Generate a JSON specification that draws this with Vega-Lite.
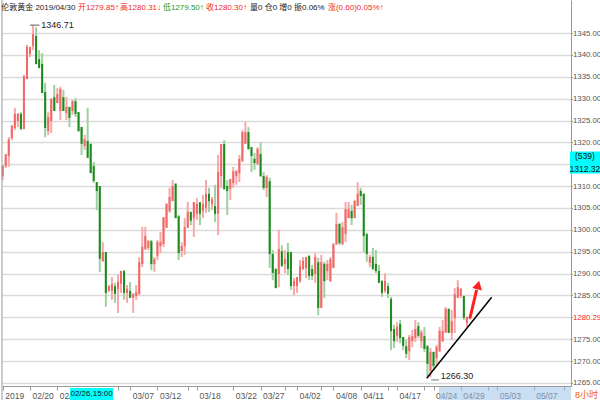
{
  "$schema": "https://vega.github.io/schema/vega-lite/v6.json",
  "width": 569,
  "height": 386,
  "autosize": {"type": "none"},
  "padding": {"left": 2, "top": 0, "right": 29, "bottom": 14},
  "background": "white",
  "config": {
    "view": {"stroke": null},
    "font": "Liberation Sans, Noto Sans CJK SC, sans-serif",
    "text": {"font": "Liberation Sans, Noto Sans CJK SC, sans-serif"},
    "axis": {"labelOverlap": false, "labelFlush": false, "title": null, "labelColor": "#555", "tickColor": "#999", "domainColor": "#999"}
  },
  "resolve": {"axis": {"x": "independent", "y": "independent"}},
  "datasets": {
    "candles": [
      {"i":0,"o":1312.5,"h":1314.8,"l":1311.4,"c":1314.4},
      {"i":1,"o":1314.8,"h":1317.1,"l":1314.1,"c":1317.1},
      {"i":2,"o":1317.1,"h":1321.2,"l":1314.4,"c":1320.5},
      {"i":3,"o":1321.2,"h":1324.0,"l":1320.5,"c":1323.5},
      {"i":4,"o":1323.5,"h":1327.9,"l":1322.8,"c":1326.3},
      {"i":5,"o":1325.1,"h":1326.7,"l":1323.5,"c":1326.3},
      {"i":6,"o":1326.3,"h":1326.9,"l":1322.8,"c":1323.3},
      {"i":7,"o":1323.3,"h":1335.4,"l":1323.0,"c":1334.9},
      {"i":8,"o":1334.7,"h":1342.3,"l":1334.5,"c":1341.6},
      {"i":9,"o":1340.4,"h":1341.8,"l":1339.5,"c":1341.6},
      {"i":10,"o":1342.3,"h":1346.71,"l":1341.1,"c":1344.5},
      {"i":11,"o":1344.1,"h":1346.3,"l":1337.9,"c":1338.1},
      {"i":12,"o":1338.8,"h":1341.1,"l":1337.0,"c":1337.2},
      {"i":13,"o":1337.7,"h":1340.4,"l":1331.3,"c":1331.5},
      {"i":14,"o":1331.3,"h":1333.6,"l":1321.2,"c":1323.5},
      {"i":15,"o":1322.8,"h":1326.9,"l":1321.7,"c":1325.6},
      {"i":16,"o":1325.1,"h":1330.1,"l":1322.1,"c":1329.7},
      {"i":17,"o":1330.1,"h":1333.1,"l":1327.2,"c":1327.4},
      {"i":18,"o":1329.2,"h":1332.4,"l":1329.0,"c":1330.8},
      {"i":19,"o":1327.4,"h":1332.7,"l":1325.1,"c":1332.0},
      {"i":20,"o":1330.1,"h":1332.0,"l":1327.2,"c":1327.4},
      {"i":21,"o":1326.9,"h":1330.4,"l":1325.1,"c":1327.9},
      {"i":22,"o":1327.9,"h":1328.1,"l":1323.5,"c":1325.8},
      {"i":23,"o":1327.4,"h":1329.7,"l":1326.3,"c":1329.2},
      {"i":24,"o":1329.2,"h":1330.1,"l":1325.8,"c":1326.7},
      {"i":25,"o":1326.7,"h":1326.9,"l":1322.4,"c":1322.8},
      {"i":26,"o":1323.3,"h":1323.5,"l":1317.1,"c":1319.9},
      {"i":27,"o":1319.4,"h":1321.7,"l":1318.3,"c":1320.5},
      {"i":28,"o":1320.1,"h":1327.9,"l":1316.4,"c":1316.7},
      {"i":29,"o":1319.4,"h":1319.9,"l":1313.0,"c":1313.2},
      {"i":30,"o":1314.4,"h":1315.5,"l":1310.7,"c":1311.4},
      {"i":31,"o":1310.7,"h":1310.9,"l":1304.5,"c":1309.1},
      {"i":32,"o":1309.8,"h":1310.0,"l":1290.4,"c":1293.6},
      {"i":33,"o":1293.1,"h":1297.2,"l":1292.7,"c":1294.7},
      {"i":34,"o":1294.7,"h":1294.9,"l":1282.4,"c":1285.8},
      {"i":35,"o":1286.3,"h":1287.4,"l":1285.8,"c":1286.9},
      {"i":36,"o":1286.3,"h":1289.2,"l":1284.0,"c":1287.4},
      {"i":37,"o":1286.9,"h":1287.9,"l":1283.3,"c":1285.6},
      {"i":38,"o":1286.7,"h":1289.7,"l":1281.0,"c":1287.9},
      {"i":39,"o":1287.9,"h":1290.4,"l":1285.6,"c":1290.4},
      {"i":40,"o":1290.4,"h":1290.8,"l":1284.0,"c":1285.8},
      {"i":41,"o":1285.8,"h":1287.4,"l":1283.3,"c":1286.3},
      {"i":42,"o":1285.8,"h":1288.1,"l":1284.4,"c":1284.7},
      {"i":43,"o":1284.7,"h":1285.6,"l":1281.0,"c":1285.1},
      {"i":44,"o":1285.1,"h":1287.4,"l":1284.0,"c":1285.6},
      {"i":45,"o":1285.6,"h":1293.8,"l":1285.1,"c":1292.4},
      {"i":46,"o":1292.4,"h":1300.7,"l":1291.5,"c":1295.9},
      {"i":47,"o":1295.9,"h":1300.7,"l":1295.4,"c":1298.4},
      {"i":48,"o":1296.1,"h":1297.7,"l":1295.4,"c":1297.2},
      {"i":49,"o":1297.2,"h":1297.7,"l":1290.8,"c":1292.4},
      {"i":50,"o":1292.4,"h":1293.8,"l":1290.4,"c":1293.1},
      {"i":51,"o":1294.3,"h":1297.7,"l":1293.1,"c":1297.0},
      {"i":52,"o":1296.5,"h":1299.5,"l":1294.7,"c":1297.0},
      {"i":53,"o":1297.0,"h":1302.7,"l":1296.1,"c":1302.7},
      {"i":54,"o":1300.7,"h":1306.1,"l":1300.5,"c":1305.7},
      {"i":55,"o":1304.5,"h":1309.6,"l":1303.9,"c":1307.3},
      {"i":56,"o":1306.8,"h":1311.4,"l":1306.6,"c":1309.8},
      {"i":57,"o":1310.3,"h":1310.7,"l":1302.7,"c":1302.9},
      {"i":58,"o":1302.9,"h":1303.4,"l":1293.1,"c":1294.9},
      {"i":59,"o":1295.4,"h":1297.2,"l":1293.8,"c":1296.1},
      {"i":60,"o":1296.5,"h":1302.7,"l":1294.3,"c":1300.4},
      {"i":61,"o":1300.7,"h":1306.4,"l":1300.4,"c":1303.9},
      {"i":62,"o":1303.9,"h":1304.1,"l":1301.1,"c":1302.3},
      {"i":63,"o":1302.9,"h":1306.4,"l":1298.4,"c":1306.1},
      {"i":64,"o":1303.9,"h":1307.3,"l":1302.3,"c":1305.7},
      {"i":65,"o":1306.1,"h":1306.3,"l":1301.1,"c":1303.9},
      {"i":66,"o":1304.5,"h":1308.0,"l":1302.7,"c":1305.7},
      {"i":67,"o":1305.2,"h":1311.4,"l":1303.9,"c":1308.0},
      {"i":68,"o":1308.0,"h":1309.6,"l":1304.1,"c":1306.8},
      {"i":69,"o":1306.1,"h":1307.5,"l":1304.5,"c":1306.8},
      {"i":70,"o":1305.2,"h":1310.3,"l":1301.8,"c":1303.9},
      {"i":71,"o":1303.9,"h":1317.1,"l":1298.8,"c":1313.0},
      {"i":72,"o":1312.5,"h":1319.6,"l":1309.6,"c":1319.4},
      {"i":73,"o":1319.4,"h":1320.5,"l":1309.1,"c":1309.6},
      {"i":74,"o":1309.8,"h":1311.4,"l":1303.4,"c":1309.1},
      {"i":75,"o":1309.6,"h":1311.6,"l":1306.8,"c":1311.4},
      {"i":76,"o":1310.9,"h":1314.4,"l":1309.6,"c":1313.2},
      {"i":77,"o":1312.5,"h":1313.7,"l":1310.3,"c":1313.2},
      {"i":78,"o":1313.2,"h":1317.1,"l":1310.9,"c":1316.0},
      {"i":79,"o":1316.0,"h":1322.8,"l":1315.5,"c":1322.1},
      {"i":80,"o":1319.9,"h":1324.7,"l":1319.7,"c":1322.1},
      {"i":81,"o":1322.1,"h":1323.5,"l":1318.3,"c":1318.7},
      {"i":82,"o":1318.7,"h":1318.9,"l":1313.2,"c":1317.1},
      {"i":83,"o":1316.0,"h":1317.6,"l":1313.7,"c":1315.5},
      {"i":84,"o":1315.3,"h":1318.9,"l":1314.8,"c":1318.3},
      {"i":85,"o":1317.1,"h":1319.9,"l":1312.1,"c":1312.5},
      {"i":86,"o":1312.1,"h":1313.2,"l":1309.1,"c":1309.8},
      {"i":87,"o":1309.8,"h":1312.5,"l":1307.5,"c":1311.9},
      {"i":88,"o":1310.9,"h":1311.9,"l":1291.3,"c":1294.7},
      {"i":89,"o":1294.3,"h":1295.4,"l":1288.5,"c":1290.4},
      {"i":90,"o":1290.8,"h":1291.3,"l":1286.7,"c":1286.9},
      {"i":91,"o":1290.1,"h":1300.0,"l":1286.9,"c":1295.4},
      {"i":92,"o":1294.9,"h":1296.5,"l":1291.5,"c":1292.0},
      {"i":93,"o":1292.4,"h":1295.4,"l":1290.1,"c":1293.1},
      {"i":94,"o":1294.7,"h":1297.0,"l":1289.7,"c":1291.3},
      {"i":95,"o":1294.7,"h":1294.9,"l":1286.3,"c":1287.4},
      {"i":96,"o":1287.4,"h":1289.0,"l":1285.1,"c":1288.1},
      {"i":97,"o":1287.4,"h":1289.2,"l":1285.6,"c":1289.0},
      {"i":98,"o":1288.5,"h":1293.1,"l":1287.9,"c":1291.5},
      {"i":99,"o":1291.3,"h":1293.8,"l":1290.8,"c":1292.7},
      {"i":100,"o":1291.5,"h":1293.8,"l":1289.0,"c":1293.6},
      {"i":101,"o":1293.8,"h":1294.3,"l":1288.5,"c":1289.7},
      {"i":102,"o":1290.8,"h":1292.0,"l":1288.5,"c":1289.7},
      {"i":103,"o":1290.1,"h":1294.7,"l":1287.9,"c":1293.6},
      {"i":104,"o":1292.4,"h":1293.6,"l":1280.5,"c":1282.4},
      {"i":105,"o":1282.4,"h":1294.3,"l":1282.1,"c":1292.4},
      {"i":106,"o":1292.0,"h":1292.7,"l":1284.4,"c":1288.5},
      {"i":107,"o":1290.8,"h":1293.1,"l":1288.5,"c":1292.0},
      {"i":108,"o":1288.5,"h":1293.8,"l":1288.1,"c":1293.1},
      {"i":109,"o":1291.5,"h":1297.0,"l":1291.3,"c":1296.5},
      {"i":110,"o":1297.0,"h":1303.9,"l":1296.5,"c":1301.1},
      {"i":111,"o":1301.1,"h":1301.6,"l":1296.5,"c":1297.2},
      {"i":112,"o":1297.0,"h":1301.8,"l":1296.5,"c":1300.4},
      {"i":113,"o":1299.3,"h":1306.4,"l":1297.2,"c":1304.5},
      {"i":114,"o":1302.9,"h":1306.4,"l":1302.7,"c":1304.5},
      {"i":115,"o":1304.1,"h":1305.7,"l":1301.1,"c":1302.9},
      {"i":116,"o":1302.9,"h":1306.8,"l":1302.7,"c":1306.4},
      {"i":117,"o":1305.7,"h":1310.9,"l":1305.5,"c":1308.0},
      {"i":118,"o":1308.7,"h":1309.6,"l":1305.7,"c":1308.0},
      {"i":119,"o":1308.0,"h":1308.4,"l":1294.9,"c":1298.8},
      {"i":120,"o":1298.8,"h":1299.3,"l":1292.7,"c":1294.7},
      {"i":121,"o":1292.7,"h":1294.3,"l":1291.5,"c":1293.6},
      {"i":122,"o":1293.6,"h":1295.9,"l":1290.8,"c":1291.3},
      {"i":123,"o":1292.0,"h":1295.4,"l":1290.1,"c":1290.8},
      {"i":124,"o":1290.4,"h":1292.0,"l":1287.9,"c":1288.1},
      {"i":125,"o":1288.1,"h":1288.5,"l":1284.7,"c":1285.8},
      {"i":126,"o":1286.3,"h":1290.1,"l":1285.6,"c":1288.1},
      {"i":127,"o":1286.9,"h":1287.9,"l":1284.4,"c":1285.6},
      {"i":128,"o":1284.0,"h":1284.7,"l":1272.5,"c":1277.1},
      {"i":129,"o":1277.1,"h":1278.3,"l":1273.0,"c":1274.8},
      {"i":130,"o":1276.0,"h":1278.9,"l":1274.4,"c":1277.6},
      {"i":131,"o":1278.3,"h":1279.4,"l":1274.1,"c":1275.5},
      {"i":132,"o":1275.3,"h":1275.5,"l":1272.5,"c":1273.7},
      {"i":133,"o":1273.2,"h":1274.8,"l":1270.7,"c":1271.9},
      {"i":134,"o":1272.5,"h":1276.0,"l":1270.3,"c":1275.3},
      {"i":135,"o":1274.8,"h":1277.1,"l":1273.2,"c":1275.5},
      {"i":136,"o":1275.5,"h":1279.4,"l":1274.4,"c":1277.1},
      {"i":137,"o":1277.8,"h":1278.9,"l":1275.3,"c":1276.0},
      {"i":138,"o":1274.8,"h":1277.1,"l":1273.0,"c":1276.4},
      {"i":139,"o":1275.5,"h":1277.8,"l":1272.1,"c":1273.0},
      {"i":140,"o":1273.2,"h":1273.7,"l":1266.6,"c":1269.6},
      {"i":141,"o":1268.0,"h":1273.0,"l":1266.3,"c":1271.9},
      {"i":142,"o":1271.9,"h":1272.1,"l":1268.0,"c":1269.1},
      {"i":143,"o":1270.9,"h":1273.7,"l":1269.1,"c":1273.0},
      {"i":144,"o":1272.5,"h":1277.8,"l":1272.1,"c":1276.7},
      {"i":145,"o":1274.8,"h":1279.4,"l":1274.4,"c":1276.7},
      {"i":146,"o":1276.7,"h":1282.4,"l":1276.5,"c":1281.7},
      {"i":147,"o":1281.7,"h":1282.1,"l":1276.4,"c":1276.7},
      {"i":148,"o":1276.7,"h":1281.7,"l":1274.8,"c":1278.9},
      {"i":149,"o":1280.1,"h":1286.7,"l":1276.4,"c":1285.1},
      {"i":150,"o":1284.7,"h":1288.5,"l":1284.5,"c":1286.7},
      {"i":151,"o":1285.1,"h":1286.7,"l":1284.4,"c":1286.3},
      {"i":152,"o":1284.7,"h":1284.9,"l":1279.4,"c":1280.1},
      {"i":153,"o":1278.9,"h":1280.1,"l":1277.8,"c":1279.9},
      {"i":154,"o":1279.85,"h":1280.31,"l":1279.5,"c":1280.3}
    ]
  },
  "layer": [
    {
      "data": {"name": "candles"},
      "mark": {"type": "rule", "strokeWidth": 2},
      "encoding": {
        "x": {
          "field": "i", "type": "quantitative", "title": null,
          "scale": {"domain": [-0.2307, 187.31], "nice": false, "zero": false},
          "axis": {
            "title": null, "orient": "bottom", "grid": false,
            "values": [0, 9, 18, 38, 42, 51, 61, 64, 76, 85, 93, 97, 105, 109, 118, 127, 130, 139, 142, 151, 160, 163, 175, 185],
            "labelExpr": "indexof([0,9,18,42,51,64,76,85,97,109,118,130,142,151,163,175], datum.value) < 0 ? '' : ['2019','02/20','02/25','03/07','03/12','03/18','03/22','03/27','04/02','04/08','04/11','04/17','04/24','04/29','05/03','05/07'][indexof([0,9,18,42,51,64,76,85,97,109,118,130,142,151,163,175], datum.value)]",
            "labelAlign": "left", "labelBaseline": "top", "labelOffset": 2, "labelPadding": 1,
            "labelFontSize": 8.5, "labelColor": "#555", "labelOverlap": false, "labelFlush": false,
            "tickSize": 4, "tickColor": "#999", "domainColor": "#999"
          }
        },
        "y": {
          "field": "l", "type": "quantitative", "title": null,
          "scale": {"domain": [1264.314, 1352.543], "nice": false, "zero": false},
          "axis": {
            "title": null, "orient": "right",
            "values": [1265, 1270, 1275, 1280, 1285, 1290, 1295, 1300, 1305, 1310, 1315, 1320, 1325, 1330, 1335, 1340, 1345],
            "labelExpr": "datum.value == 1280 ? '1280.29' : (datum.value == 1315 ? '' : format(datum.value, '.2f'))",
            "labelColor": {"condition": {"test": "datum.value == 1280", "value": "#ff2020"}, "value": "#555"},
            "labelFontSize": 7.8, "labelPadding": 0, "labelFlush": false, "labelOverlap": false,
            "grid": true, "gridColor": "#dadada", "gridWidth": 1.5,
            "tickSize": 1.5, "tickColor": "#999", "domainColor": "#999"
          }
        },
        "y2": {"field": "h"},
        "color": {"condition": {"test": "datum.c >= datum.o", "value": "#f7a8a8"}, "value": "#9fd09f"}
      }
    },
    {
      "data": {"name": "candles"},
      "mark": {"type": "rule", "strokeWidth": 2, "strokeCap": "square"},
      "encoding": {
        "x": {"field": "i", "type": "quantitative", "axis": null, "scale": {"domain": [-0.2307, 187.31], "nice": false, "zero": false}},
        "y": {"field": "o", "type": "quantitative", "axis": null, "scale": {"domain": [1264.314, 1352.543], "nice": false, "zero": false}},
        "y2": {"field": "c"},
        "color": {"condition": {"test": "datum.c >= datum.o", "value": "#f06868"}, "value": "#1d8a1d"}
      }
    },
    {
      "data": {"values": [{}]},
      "mark": {"type": "rule", "color": "#999", "strokeWidth": 1},
      "encoding": {
        "x": {"datum": -0.2307, "type": "quantitative", "axis": null, "scale": {"domain": [-0.2307, 187.31], "nice": false, "zero": false}},
        "y": {"datum": 1352.543, "type": "quantitative", "axis": null, "scale": {"domain": [1264.314, 1352.543], "nice": false, "zero": false}},
        "y2": {"datum": 1261.0}
      }
    },
    {
      "data": {"values": [{}]},
      "mark": {"type": "rect", "color": "#9fc3ea", "opacity": 0.55},
      "encoding": {
        "x": {"datum": 143.8, "type": "quantitative", "axis": null, "scale": {"domain": [-0.2307, 187.31], "nice": false, "zero": false}},
        "x2": {"datum": 187.31},
        "y": {"datum": 1264.09, "type": "quantitative", "axis": null, "scale": {"domain": [1264.314, 1352.543], "nice": false, "zero": false}},
        "y2": {"datum": 1261.0}
      }
    },
    {
      "data": {"values": [{}]},
      "mark": {"type": "rect", "color": "#00ffff"},
      "encoding": {
        "x": {"datum": 22.2, "type": "quantitative", "axis": null, "scale": {"domain": [-0.2307, 187.31], "nice": false, "zero": false}},
        "x2": {"datum": 36.4},
        "y": {"datum": 1263.86, "type": "quantitative", "axis": null, "scale": {"domain": [1264.314, 1352.543], "nice": false, "zero": false}},
        "y2": {"datum": 1261.0}
      }
    },
    {
      "data": {"values": [{}]},
      "mark": {"type": "text", "fontSize": 8, "color": "#111", "align": "center", "baseline": "middle"},
      "encoding": {
        "x": {"datum": 29.3, "type": "quantitative", "axis": null, "scale": {"domain": [-0.2307, 187.31], "nice": false, "zero": false}},
        "y": {"datum": 1262.4, "type": "quantitative", "axis": null, "scale": {"domain": [1264.314, 1352.543], "nice": false, "zero": false}},
        "text": {"value": "02/26,15:00"}
      }
    },
    {
      "data": {"values": [{}]},
      "mark": {"type": "rect", "color": "#00ffff"},
      "encoding": {
        "x": {"datum": 186.97, "type": "quantitative", "axis": null, "scale": {"domain": [-0.2307, 187.31], "nice": false, "zero": false}},
        "x2": {"datum": 197.5},
        "y": {"datum": 1317.9, "type": "quantitative", "axis": null, "scale": {"domain": [1264.314, 1352.543], "nice": false, "zero": false}},
        "y2": {"datum": 1312.9}
      }
    },
    {
      "data": {"values": [{}]},
      "mark": {"type": "text", "fontSize": 8.5, "color": "#111", "align": "center", "baseline": "middle"},
      "encoding": {
        "x": {"datum": 191.9, "type": "quantitative", "axis": null, "scale": {"domain": [-0.2307, 187.31], "nice": false, "zero": false}},
        "y": {"datum": 1316.95, "type": "quantitative", "axis": null, "scale": {"domain": [1264.314, 1352.543], "nice": false, "zero": false}},
        "text": {"value": "(539)"}
      }
    },
    {
      "data": {"values": [{}]},
      "mark": {"type": "text", "fontSize": 8.5, "color": "#111", "align": "center", "baseline": "middle"},
      "encoding": {
        "x": {"datum": 191.9, "type": "quantitative", "axis": null, "scale": {"domain": [-0.2307, 187.31], "nice": false, "zero": false}},
        "y": {"datum": 1313.95, "type": "quantitative", "axis": null, "scale": {"domain": [1264.314, 1352.543], "nice": false, "zero": false}},
        "text": {"value": "1312.32"}
      }
    },
    {
      "data": {"values": [{}]},
      "mark": {"type": "text", "fontSize": 9, "color": "#f25c05", "align": "center", "baseline": "middle"},
      "encoding": {
        "x": {"datum": 192.4, "type": "quantitative", "axis": null, "scale": {"domain": [-0.2307, 187.31], "nice": false, "zero": false}},
        "y": {"datum": 1262.3, "type": "quantitative", "axis": null, "scale": {"domain": [1264.314, 1352.543], "nice": false, "zero": false}},
        "text": {"value": "8小时"}
      }
    },
    {
      "data": {"values": [{"i": 139.75, "p": 1266.07}, {"i": 161.17, "p": 1284.59}]},
      "mark": {"type": "line", "color": "#000", "strokeWidth": 1.5},
      "encoding": {
        "x": {"field": "i", "type": "quantitative", "axis": null, "scale": {"domain": [-0.2307, 187.31], "nice": false, "zero": false}},
        "y": {"field": "p", "type": "quantitative", "axis": null, "scale": {"domain": [1264.314, 1352.543], "nice": false, "zero": false}}
      }
    },
    {
      "data": {"values": [{}]},
      "mark": {"type": "rule", "color": "#ff2020", "strokeWidth": 3},
      "encoding": {
        "x": {"datum": 154.0, "type": "quantitative", "axis": null, "scale": {"domain": [-0.2307, 187.31], "nice": false, "zero": false}},
        "x2": {"datum": 156.2},
        "y": {"datum": 1279.8, "type": "quantitative", "axis": null, "scale": {"domain": [1264.314, 1352.543], "nice": false, "zero": false}},
        "y2": {"datum": 1286.3}
      }
    },
    {
      "data": {"values": [{}]},
      "mark": {"type": "point", "shape": "triangle-up", "filled": true, "color": "#ff2020", "opacity": 1, "size": 100, "angle": 14},
      "encoding": {
        "x": {"datum": 156.7, "type": "quantitative", "axis": null, "scale": {"domain": [-0.2307, 187.31], "nice": false, "zero": false}},
        "y": {"datum": 1287.4, "type": "quantitative", "axis": null, "scale": {"domain": [1264.314, 1352.543], "nice": false, "zero": false}}
      }
    },
    {
      "data": {"values": [{}]},
      "mark": {"type": "rule", "color": "#555", "strokeWidth": 1},
      "encoding": {
        "x": {"datum": 9.0, "type": "quantitative", "axis": null, "scale": {"domain": [-0.2307, 187.31], "nice": false, "zero": false}},
        "x2": {"datum": 12.1},
        "y": {"datum": 1346.8, "type": "quantitative", "axis": null, "scale": {"domain": [1264.314, 1352.543], "nice": false, "zero": false}}
      }
    },
    {
      "data": {"values": [{}]},
      "mark": {"type": "text", "fontSize": 9, "color": "#222", "align": "left", "baseline": "middle"},
      "encoding": {
        "x": {"datum": 12.7, "type": "quantitative", "axis": null, "scale": {"domain": [-0.2307, 187.31], "nice": false, "zero": false}},
        "y": {"datum": 1346.8, "type": "quantitative", "axis": null, "scale": {"domain": [1264.314, 1352.543], "nice": false, "zero": false}},
        "text": {"value": "1346.71"}
      }
    },
    {
      "data": {"values": [{}]},
      "mark": {"type": "rule", "color": "#777", "strokeWidth": 1},
      "encoding": {
        "x": {"datum": 141.3, "type": "quantitative", "axis": null, "scale": {"domain": [-0.2307, 187.31], "nice": false, "zero": false}},
        "x2": {"datum": 143.8},
        "y": {"datum": 1265.7, "type": "quantitative", "axis": null, "scale": {"domain": [1264.314, 1352.543], "nice": false, "zero": false}}
      }
    },
    {
      "data": {"values": [{}]},
      "mark": {"type": "text", "fontSize": 9, "color": "#222", "align": "left", "baseline": "middle"},
      "encoding": {
        "x": {"datum": 144.4, "type": "quantitative", "axis": null, "scale": {"domain": [-0.2307, 187.31], "nice": false, "zero": false}},
        "y": {"datum": 1266.6, "type": "quantitative", "axis": null, "scale": {"domain": [1264.314, 1352.543], "nice": false, "zero": false}},
        "text": {"value": "1266.30"}
      }
    },
    {
      "data": {"values": [{}]},
      "mark": {"type": "text", "fontSize": 8, "color": "#222", "align": "left", "baseline": "middle"},
      "encoding": {
        "x": {"datum": -0.5, "type": "quantitative", "axis": null, "scale": {"domain": [-0.2307, 187.31], "nice": false, "zero": false}},
        "y": {"datum": 1350.7, "type": "quantitative", "axis": null, "scale": {"domain": [1264.314, 1352.543], "nice": false, "zero": false}},
        "text": {"value": "伦敦黄金 2019/04/30"}
      }
    },
    {
      "data": {"values": [{}]},
      "mark": {"type": "text", "fontSize": 8, "color": "#f02828", "align": "left", "baseline": "middle"},
      "encoding": {
        "x": {"datum": 24.8, "type": "quantitative", "axis": null, "scale": {"domain": [-0.2307, 187.31], "nice": false, "zero": false}},
        "y": {"datum": 1350.7, "type": "quantitative", "axis": null, "scale": {"domain": [1264.314, 1352.543], "nice": false, "zero": false}},
        "text": {"value": "开1279.85↑"}
      }
    },
    {
      "data": {"values": [{}]},
      "mark": {"type": "text", "fontSize": 8, "color": "#f02828", "align": "left", "baseline": "middle"},
      "encoding": {
        "x": {"datum": 38.7, "type": "quantitative", "axis": null, "scale": {"domain": [-0.2307, 187.31], "nice": false, "zero": false}},
        "y": {"datum": 1350.7, "type": "quantitative", "axis": null, "scale": {"domain": [1264.314, 1352.543], "nice": false, "zero": false}},
        "text": {"value": "高1280.31↓"}
      }
    },
    {
      "data": {"values": [{}]},
      "mark": {"type": "text", "fontSize": 8, "color": "#1f9a1f", "align": "left", "baseline": "middle"},
      "encoding": {
        "x": {"datum": 52.8, "type": "quantitative", "axis": null, "scale": {"domain": [-0.2307, 187.31], "nice": false, "zero": false}},
        "y": {"datum": 1350.7, "type": "quantitative", "axis": null, "scale": {"domain": [1264.314, 1352.543], "nice": false, "zero": false}},
        "text": {"value": "低1279.50↑"}
      }
    },
    {
      "data": {"values": [{}]},
      "mark": {"type": "text", "fontSize": 8, "color": "#f02828", "align": "left", "baseline": "middle"},
      "encoding": {
        "x": {"datum": 67.0, "type": "quantitative", "axis": null, "scale": {"domain": [-0.2307, 187.31], "nice": false, "zero": false}},
        "y": {"datum": 1350.7, "type": "quantitative", "axis": null, "scale": {"domain": [1264.314, 1352.543], "nice": false, "zero": false}},
        "text": {"value": "收1280.30↑"}
      }
    },
    {
      "data": {"values": [{}]},
      "mark": {"type": "text", "fontSize": 8, "color": "#222", "align": "left", "baseline": "middle"},
      "encoding": {
        "x": {"datum": 81.5, "type": "quantitative", "axis": null, "scale": {"domain": [-0.2307, 187.31], "nice": false, "zero": false}},
        "y": {"datum": 1350.7, "type": "quantitative", "axis": null, "scale": {"domain": [1264.314, 1352.543], "nice": false, "zero": false}},
        "text": {"value": "量0 仓0 增0 振0.06%"}
      }
    },
    {
      "data": {"values": [{}]},
      "mark": {"type": "text", "fontSize": 8, "color": "#f02828", "align": "left", "baseline": "middle"},
      "encoding": {
        "x": {"datum": 107.2, "type": "quantitative", "axis": null, "scale": {"domain": [-0.2307, 187.31], "nice": false, "zero": false}},
        "y": {"datum": 1350.7, "type": "quantitative", "axis": null, "scale": {"domain": [1264.314, 1352.543], "nice": false, "zero": false}},
        "text": {"value": "涨(0.60)0.05%↑"}
      }
    }
  ]
}
